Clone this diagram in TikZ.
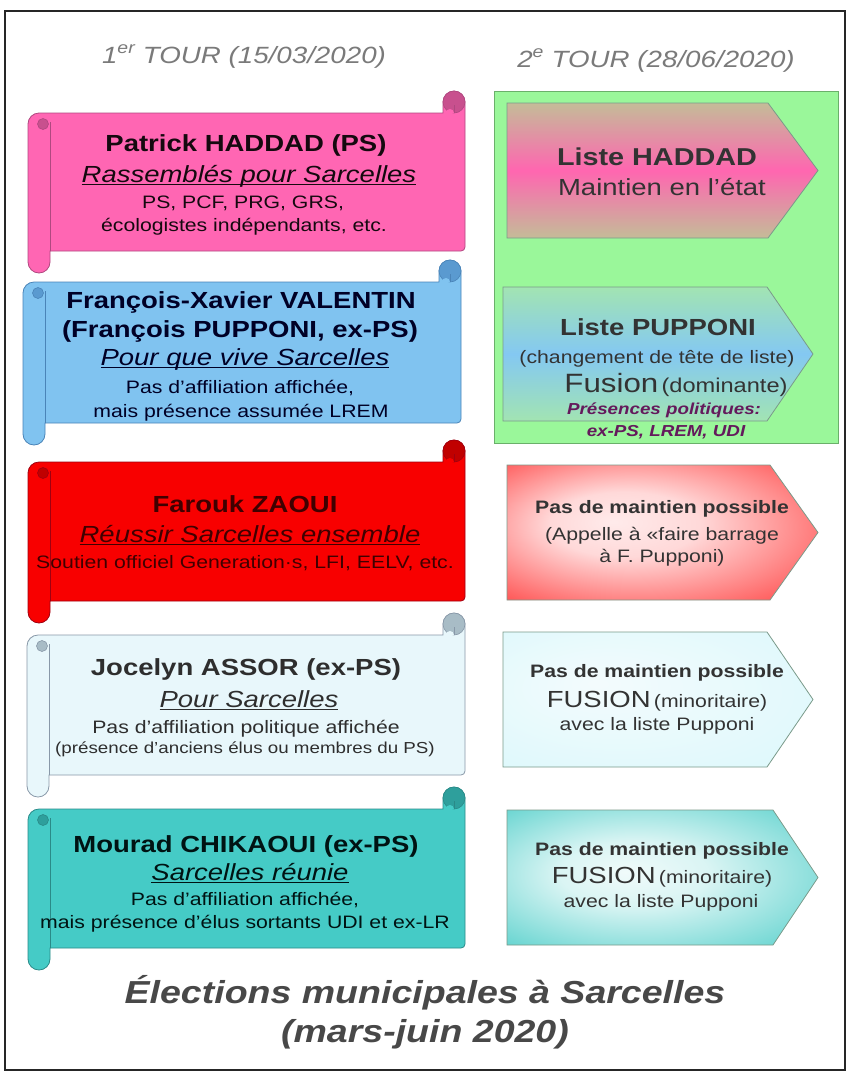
\documentclass[tikz,border=0pt]{standalone}
\usepackage{fontspec}
\setmainfont{Liberation Sans}[FakeStretch=1.18]
\definecolor{pinkF}{HTML}{FF66B3}\definecolor{pinkD}{HTML}{C8508E}\definecolor{pinkB}{HTML}{B04880}
\definecolor{blueF}{HTML}{80C3F0}\definecolor{blueD}{HTML}{5A9AD0}\definecolor{blueB}{HTML}{4A84B8}
\definecolor{redF}{HTML}{F80000}\definecolor{redD}{HTML}{C00000}\definecolor{redB}{HTML}{A00010}
\definecolor{lightF}{HTML}{E8F7FB}\definecolor{lightD}{HTML}{A8BCC6}\definecolor{lightB}{HTML}{8898A8}
\definecolor{tealF}{HTML}{45CBC6}\definecolor{tealD}{HTML}{2E9F9C}\definecolor{tealB}{HTML}{2A8A88}
\definecolor{greenF}{HTML}{9AF79A}\definecolor{greenB}{HTML}{6AB06A}
\definecolor{hadTop}{HTML}{C4BC98}\definecolor{hadMid}{HTML}{FF66B0}
\definecolor{pupTop}{HTML}{A2E4B2}\definecolor{pupMid}{HTML}{84C8F2}
\definecolor{arrB}{HTML}{7A9A8A}
\definecolor{hdr}{HTML}{7A7A7A}\definecolor{ttl}{HTML}{484848}
\definecolor{purp}{HTML}{641A5C}
\pgfdeclareradialshading{redglow}{\pgfpoint{-8bp}{4bp}}{color(0bp)=(white!92!red); color(12bp)=(white!85!red); color(32bp)=(red!60!white); color(50bp)=(red)}
\pgfdeclareradialshading{tealglow}{\pgfpoint{-6bp}{2bp}}{color(0bp)=(white!92!tealF); color(12bp)=(white!80!tealF); color(34bp)=(tealF!80!white); color(50bp)=(tealF!95!black)}
\pgfdeclareradialshading{lightglow}{\pgfpoint{-10bp}{6bp}}{color(0bp)=(white!50!lightF); color(50bp)=(lightF!92!cyan)}
\newcommand\ul[1]{{\setbox0\hbox{#1}\rlap{\rule[-2.8pt]{\wd0}{0.9pt}}\box0}}
% scroll: L T R B fill dark border
\newcommand\drawscroll[7]{%
  \filldraw[fill=#5, draw=#7, line width=0.8pt]
    (#1,{#2+33}) arc[start angle=180,end angle=270,radius=11]
    -- ({#3-22},{#2+22}) -- ({#3-22},{#2+11}) arc[start angle=180,end angle=360,radius=11]
    -- (#3,{#4-26}) arc[start angle=0,end angle=90,radius=4] -- ({#1+22},{#4-22})
    -- ({#1+22},{#4-11}) arc[start angle=0,end angle=180,radius=11] -- cycle;
  \filldraw[fill=#6, draw=#7, line width=0.6pt] ({#3-11},{#2+11}) circle[radius=11];
  \fill[#5] ({#3-19},{#2+22}) arc[start angle=180,end angle=360,radius=4] -- cycle;
  \draw[#7, line width=0.6pt] ({#3-11},{#2+22}) -- ({#3-11},{#2+14});
  \draw[#7, line width=0.6pt] ({#1+22},{#2+31}) -- ({#1+22},{#4-22});
  \filldraw[fill=#6, draw=#7, line width=0.6pt] ({#1+15},{#2+33}) circle[radius=5.5];
}
% arrow: x0 y0 x1 tip y2 style
\newcommand\drawarrow[6]{%
  \path[#6] (#1,#2) -- (#3,#2) -- (#4,{(#2+#5)/2}) -- (#3,#5) -- (#1,#5) -- cycle;
}
\begin{document}
\begin{tikzpicture}[x=1pt,y=-1pt,
  tx/.style={anchor=base, inner sep=0pt},
  nm/.style={tx, font=\bfseries\fontsize{23.3}{26}\selectfont},
  it/.style={tx, font=\itshape\fontsize{23.3}{26}\selectfont},
  sm/.style={tx, font=\fontsize{18}{20}\selectfont},
  smb/.style={tx, font=\bfseries\fontsize{18}{20}\selectfont},
  xs/.style={tx, font=\fontsize{15.9}{18}\selectfont},
  hd/.style={tx, text=hdr, font=\itshape\fontsize{23.5}{26}\selectfont},
  tl/.style={tx, text=ttl, font=\bfseries\itshape\fontsize{31.8}{36}\selectfont},
  pp/.style={tx, text=purp, font=\bfseries\itshape\fontsize{15.9}{18}\selectfont},
  arr/.style={draw=arrB, line width=0.8pt}]
\useasboundingbox (0,0) rectangle (848,1072);
\fill[white] (0,0) rectangle (848,1072);
\draw[line width=1.4pt, black!85] (5,11) rectangle (845,1070);

% headers
\node[hd] (h1) at (244,63) {1\textsuperscript{er} TOUR (15/03/2020)};
\node[hd] (h2) at (656,67) {2\textsuperscript{e} TOUR (28/06/2020)};

% scrolls
\drawscroll{28}{91}{465}{273}{pinkF}{pinkD}{pinkB}
\drawscroll{23}{260}{461}{445}{blueF}{blueD}{blueB}
\drawscroll{28}{440}{465}{623}{redF}{redD}{redB}
\drawscroll{27}{613}{465}{797}{lightF}{lightD}{lightB}
\drawscroll{28}{787}{465}{970}{tealF}{tealD}{tealB}

% green panel
\filldraw[fill=greenF, draw=greenB, line width=0.8pt] (494,91) rectangle (838,443);

% arrows
\drawarrow{507}{103}{768}{818}{238}{arr, top color=hadTop, bottom color=hadTop, middle color=hadMid}
\drawarrow{503}{287}{767}{813}{421}{arr, top color=pupTop, bottom color=pupTop, middle color=pupMid}
\drawarrow{507}{465}{770}{818}{600}{arr, shading=redglow}
\drawarrow{503}{632}{767}{813}{767}{arr, shading=lightglow}
\drawarrow{507}{810}{773}{818}{945}{arr, shading=tealglow}

% pink text
\begin{scope}[every node/.append style={text=black!80!pinkB!60!black}]
\node[nm] (p1) at (246,151) {Patrick HADDAD (PS)};
\node[it] (p2) at (249,182) {\ul{Rassemblés pour Sarcelles}};
\node[sm] (p3) at (243,208) {PS, PCF, PRG, GRS,};
\node[sm] (p4) at (244,231) {écologistes indépendants, etc.};
\end{scope}
% blue text
\begin{scope}[every node/.append style={text=black!85!blue}]
\node[nm] (b1) at (241,308) {François-Xavier VALENTIN};
\node[nm] (b2) at (240,337) {(François PUPPONI, ex-PS)};
\node[it] (b3) at (245,365) {\ul{Pour que vive Sarcelles}};
\node[sm] (b4) at (240,393) {Pas d'affiliation affichée,};
\node[sm] (b5) at (241,417) {mais présence assumée LREM};
\end{scope}
% red text
\begin{scope}[every node/.append style={text=red!25!black}]
\node[nm] (r1) at (245,512) {Farouk ZAOUI};
\node[it] (r2) at (250,542) {\ul{Réussir Sarcelles ensemble}};
\node[sm] (r3) at (245,568) {Soutien officiel Generation·s, LFI, EELV, etc.};
\end{scope}
% light text
\begin{scope}[every node/.append style={text=black!82}]
\node[nm] (a1) at (246,675) {Jocelyn ASSOR (ex-PS)};
\node[it] (a2) at (249,707) {\ul{Pour Sarcelles}};
\node[sm] (a3) at (246,733) {Pas d'affiliation politique affichée};
\node[xs] (a4) at (245,753) {(présence d'anciens élus ou membres du PS)};
\end{scope}
% teal text
\begin{scope}[every node/.append style={text=black!85!teal}]
\node[nm] (c1) at (246,852) {Mourad CHIKAOUI (ex-PS)};
\node[it] (c2) at (250,880) {\ul{Sarcelles réunie}};
\node[sm] (c3) at (245,905) {Pas d'affiliation affichée,};
\node[sm] (c4) at (245,928) {mais présence d'élus sortants UDI et ex-LR};
\end{scope}

% right texts
\begin{scope}[every node/.append style={text=black!80}]
\node[tx, font=\bfseries\fontsize{24.4}{26}\selectfont] (ha1) at (657,165) {Liste HADDAD};
\node[tx, font=\fontsize{23.3}{26}\selectfont] (ha2) at (662,195) {Maintien en l'état};
\node[nm] (pu1) at (658,335) {Liste PUPPONI};
\node[sm] (pu2) at (657,363) {(changement de tête de liste)};
\node[tx] (pu3) at (676,392) {{\fontsize{26.5}{28}\selectfont Fusion} {\fontsize{20}{22}\selectfont (dominante)}};
\node[smb] (x1) at (662,513) {Pas de maintien possible};
\node[sm] (x2) at (662,540) {(Appelle à «faire barrage};
\node[sm] (x3) at (662,562) {à F. Pupponi)};
\node[smb] (l1) at (657,677) {Pas de maintien possible};
\node[tx] (l2) at (657,707) {{\fontsize{23.3}{26}\selectfont FUSION} {\fontsize{18}{20}\selectfont (minoritaire)}};
\node[sm] (l3) at (657,730) {avec la liste Pupponi};
\node[smb] (t1) at (662,855) {Pas de maintien possible};
\node[tx] (t2) at (662,883) {{\fontsize{23.3}{26}\selectfont FUSION} {\fontsize{18}{20}\selectfont (minoritaire)}};
\node[sm] (t3) at (661,907) {avec la liste Pupponi};
\end{scope}
\node[pp] (pr1) at (664,414) {Présences politiques:};
\node[pp] (pr2) at (666,436) {ex-PS, LREM, UDI};

% title
\node[tl] (ti1) at (425,1003) {Élections municipales à Sarcelles};
\node[tl] (ti2) at (425,1042) {(mars-juin 2020)};
\end{tikzpicture}
\end{document}
